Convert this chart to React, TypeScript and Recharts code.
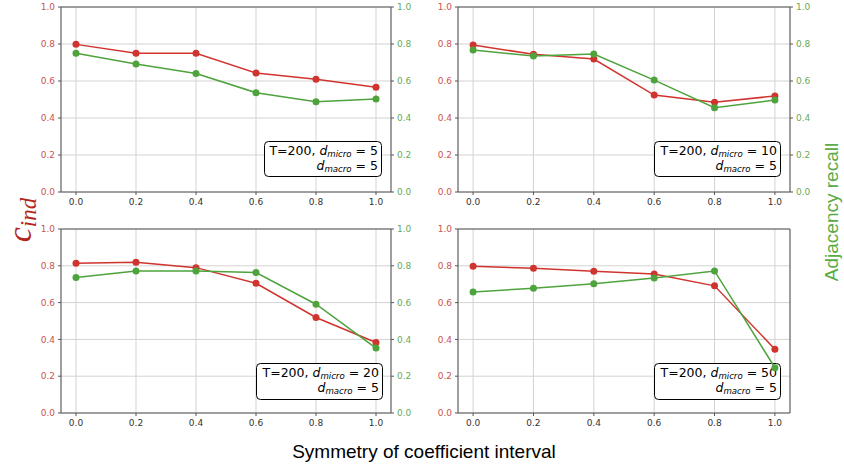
import React from "react";
import {
  LineChart,
  Line,
  XAxis,
  YAxis,
  CartesianGrid,
  ReferenceLine,
} from "recharts";

const symmetry = [0.0, 0.2, 0.4, 0.6, 0.8, 1.0];
const yTicks = [0, 0.2, 0.4, 0.6, 0.8, 1.0];

// c_ind (red, left axis) and adjacency recall (green, right axis)
const cIndMicro5 = [0.798, 0.75, 0.75, 0.643, 0.609, 0.566];
const recallMicro5 = [0.75, 0.692, 0.641, 0.537, 0.488, 0.503];
const cIndMicro10 = [0.795, 0.744, 0.719, 0.524, 0.485, 0.519];
const recallMicro10 = [0.768, 0.735, 0.746, 0.605, 0.456, 0.497];
const cIndMicro20 = [0.814, 0.819, 0.79, 0.705, 0.519, 0.383];
const recallMicro20 = [0.736, 0.772, 0.772, 0.763, 0.591, 0.353];
const cIndMicro50 = [0.797, 0.787, 0.77, 0.756, 0.691, 0.347];
const recallMicro50 = [0.658, 0.678, 0.702, 0.734, 0.772, 0.246];
const microLabels = ["5", "10", "20", "50"];

const RED = "#d0342f";
const GREEN = "#4ea33d";
const RED_TICK = "#c95550";
const GREEN_TICK = "#6aaa55";
const SPINE = "#555555";
const GRID = "#d3d3d3";

const toRows = (c: number[], r: number[]) =>
  symmetry.map((x, i) => ({ x, cind: c[i], recall: r[i] }));

const panels = [
  { rows: toRows(cIndMicro5, recallMicro5), micro: microLabels[0], left: 0, top: 0, h: 210, mt: 7, lw: 61, rw: 31 },
  { rows: toRows(cIndMicro10, recallMicro10), micro: microLabels[1], left: 422, top: 0, h: 210, mt: 7, lw: 36, rw: 54 },
  { rows: toRows(cIndMicro20, recallMicro20), micro: microLabels[2], left: 0, top: 210, h: 221, mt: 19, lw: 61, rw: 31 },
  { rows: toRows(cIndMicro50, recallMicro50), micro: microLabels[3], left: 422, top: 210, h: 221, mt: 19, lw: 36, rw: 54 },
];

// annotation boxes, page coordinates
const boxes = [
  { x: 264, y: 141, w: 117, h: 35 },
  { x: 654, y: 141, w: 126, h: 35 },
  { x: 256, y: 363, w: 126, h: 36 },
  { x: 654, y: 363, w: 126, h: 36 },
];

const fmt = (v: number) => v.toFixed(1);

type PanelCfg = (typeof panels)[number];

function Panel({ p, showRecall = true }: { p: PanelCfg; showRecall?: boolean }) {
  return (
    <div style={{ position: "absolute", left: p.left, top: p.top }}>
      <LineChart
        width={422}
        height={p.h}
        data={p.rows}
        margin={{ top: p.mt, right: 0, bottom: 0, left: 0 }}
      >
        <CartesianGrid stroke={GRID} strokeWidth={1} yAxisId="left" />
        <XAxis
          dataKey="x"
          type="number"
          domain={[-0.05, 1.05]}
          ticks={symmetry}
          tickFormatter={fmt}
          height={18}
          tickSize={3}
          tickMargin={4}
          axisLine={{ stroke: SPINE }}
          tickLine={{ stroke: SPINE }}
          tick={{ fontSize: 9, fill: "#333", fontFamily: "DejaVu Sans" }}
          allowDataOverflow
        />
        <YAxis
          yAxisId="left"
          orientation="left"
          domain={[0, 1]}
          ticks={yTicks}
          tickFormatter={fmt}
          width={p.lw}
          tickSize={3}
          tickMargin={3}
          axisLine={{ stroke: SPINE }}
          tickLine={{ stroke: SPINE }}
          tick={{ fontSize: 9, fill: RED_TICK, fontFamily: "DejaVu Sans" }}
        />
        <YAxis
          yAxisId="right"
          orientation="right"
          domain={[0, 1]}
          ticks={yTicks}
          tickFormatter={fmt}
          width={p.rw}
          tickSize={3}
          tickMargin={3}
          axisLine={{ stroke: SPINE }}
          tickLine={{ stroke: SPINE }}
          tick={{ fontSize: 9, fill: GREEN_TICK, fontFamily: "DejaVu Sans" }}
        />
        <ReferenceLine yAxisId="left" y={1} stroke={SPINE} strokeWidth={1} />
        <Line
          yAxisId="left"
          dataKey="cind"
          stroke={RED}
          strokeWidth={1.5}
          dot={{ r: 3.5, fill: RED, stroke: RED, strokeWidth: 0 }}
          isAnimationActive={false}
        />
        {showRecall && (
          <Line
            yAxisId="right"
            dataKey="recall"
            stroke={GREEN}
            strokeWidth={1.5}
            dot={{ r: 3.5, fill: GREEN, stroke: GREEN, strokeWidth: 0 }}
            isAnimationActive={false}
          />
        )}
      </LineChart>
    </div>
  );
}

// green series of the last panel, drawn above its annotation box
function RecallOnTop({ p }: { p: PanelCfg }) {
  return (
    <div style={{ position: "absolute", left: p.left, top: p.top, pointerEvents: "none" }}>
      <LineChart
        width={422}
        height={p.h}
        data={p.rows}
        margin={{ top: p.mt, right: 0, bottom: 0, left: 0 }}
      >
        <XAxis
          dataKey="x"
          type="number"
          domain={[-0.05, 1.05]}
          ticks={symmetry}
          height={18}
          axisLine={false}
          tickLine={false}
          tick={false}
          allowDataOverflow
        />
        <YAxis yAxisId="left" domain={[0, 1]} width={p.lw} axisLine={false} tickLine={false} tick={false} />
        <YAxis
          yAxisId="right"
          orientation="right"
          domain={[0, 1]}
          width={p.rw}
          axisLine={false}
          tickLine={false}
          tick={false}
        />
        <Line
          yAxisId="right"
          dataKey="recall"
          stroke={GREEN}
          strokeWidth={1.5}
          dot={{ r: 3.5, fill: GREEN, stroke: GREEN, strokeWidth: 0 }}
          isAnimationActive={false}
        />
      </LineChart>
    </div>
  );
}

export default function App() {
  return (
    <div
      style={{
        position: "absolute",
        left: 0,
        top: 0,
        width: 844,
        height: 465,
        background: "#fff",
        overflow: "hidden",
      }}
    >
      {panels.map((p, i) => (
        <Panel key={i} p={p} showRecall={i !== 3} />
      ))}
      <svg
        width={844}
        height={465}
        style={{ position: "absolute", left: 0, top: 0, pointerEvents: "none" }}
      >
        {boxes.map((b, i) => (
          <g key={i} fontFamily="DejaVu Sans" fontSize={12.5} fill="#000">
            <rect
              x={b.x + 0.5}
              y={b.y + 0.5}
              width={b.w}
              height={b.h}
              rx={4}
              fill="#fff"
              stroke="#000"
              strokeWidth={1}
            />
            <text x={b.x + b.w - 3} y={b.y + 14} textAnchor="end">
              <tspan>T=200, </tspan>
              <tspan fontStyle="italic">d</tspan>
              <tspan fontStyle="italic" fontSize={8.6} dy={2}>micro</tspan>
              <tspan dy={-2}> = {panels[i].micro}</tspan>
            </text>
            <text x={b.x + b.w - 3} y={b.y + 29} textAnchor="end">
              <tspan fontStyle="italic">d</tspan>
              <tspan fontStyle="italic" fontSize={8.6} dy={2}>macro</tspan>
              <tspan dy={-2}> = 5</tspan>
            </text>
          </g>
        ))}
        <text
          transform="translate(31 220) rotate(-90)"
          textAnchor="middle"
          fontFamily="Liberation Serif"
          fontStyle="italic"
          fill="#b3261e"
        >
          <tspan fontSize={34}>c</tspan>
          <tspan fontSize={23} dy={5}>ind</tspan>
        </text>
        <text
          transform="translate(838 212) rotate(-90)"
          textAnchor="middle"
          fontFamily="Liberation Sans"
          fontSize={19}
          fill="#5aab45"
        >
          Adjacency recall
        </text>
        <text
          x={424}
          y={458}
          textAnchor="middle"
          fontFamily="Liberation Sans"
          fontSize={19}
          fill="#000"
        >
          Symmetry of coefficient interval
        </text>
      </svg>
      <RecallOnTop p={panels[3]} />
    </div>
  );
}
